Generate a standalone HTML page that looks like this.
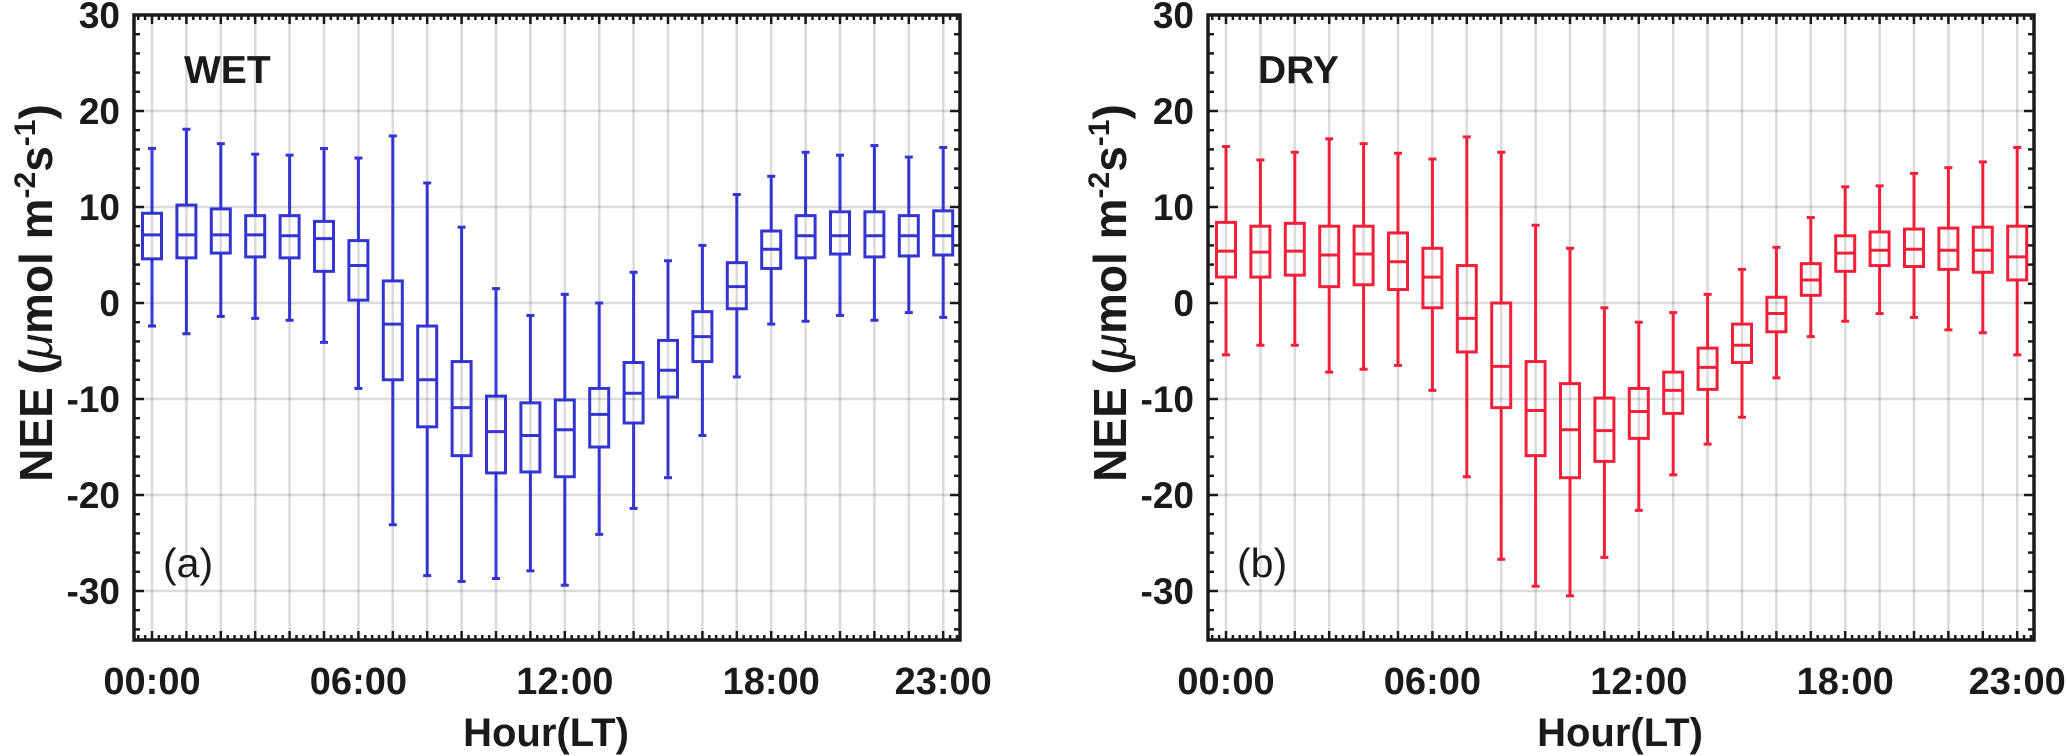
<!DOCTYPE html>
<html><head><meta charset="utf-8"><style>
html,body{margin:0;padding:0;background:#fff;}
svg{display:block;}
text{font-family:"Liberation Sans",Arial,sans-serif;fill:#1a1a1a;}
</style></head>
<body>
<svg id="chart" width="2067" height="756" viewBox="0 0 2067 756"></svg>
<script>
const hours = [0,1,2,3,4,5,6,7,8,9,10,11,12,13,14,15,16,17,18,19,20,21,22,23];
const xTickHours = [0,6,12,18,23];
const xTickLabels = ["00:00","06:00","12:00","18:00","23:00"];
const yTicks = [30,20,10,0,-10,-20,-30];
// WET season
const wetMax = [16.1,18.1,16.6,15.5,15.4,16.1,15.1,17.4,12.5,7.9,1.5,-1.3,0.9,0,3.2,4.4,6.0,11.3,13.2,15.7,15.4,16.4,15.2,16.2];
const wetQ3  = [9.35,10.2,9.8,9.1,9.1,8.5,6.5,2.3,-2.4,-6.1,-9.7,-10.4,-10.1,-8.9,-6.2,-3.9,-0.9,4.2,7.5,9.1,9.5,9.5,9.1,9.6];
const wetMed = [7.1,7.1,7.1,7.1,7.0,6.7,3.9,-2.2,-8.0,-10.9,-13.4,-13.8,-13.2,-11.6,-9.4,-7.0,-3.5,1.7,5.6,7.0,7.0,7.0,7.0,7.0];
const wetQ1  = [4.6,4.7,5.2,4.8,4.7,3.3,0.3,-8.0,-12.9,-15.9,-17.7,-17.6,-18.1,-15.0,-12.5,-9.8,-6.1,-0.6,3.6,4.7,5.1,4.8,4.9,5.0];
const wetMin = [-2.4,-3.2,-1.4,-1.6,-1.8,-4.1,-8.9,-23.1,-28.4,-29.0,-28.7,-27.9,-29.4,-24.1,-21.4,-18.2,-13.8,-7.7,-2.2,-1.9,-1.3,-1.8,-1.0,-1.5];
// DRY season
const dryMax = [16.3,14.9,15.7,17.1,16.6,15.6,15.0,17.3,15.7,8.1,5.7,-0.5,-2.0,-1.0,0.9,3.5,5.8,8.9,12.1,12.2,13.5,14.1,14.7,16.2];
const dryQ3  = [8.4,8.0,8.3,8.0,8.0,7.3,5.7,3.9,0,-6.1,-8.4,-9.9,-8.9,-7.2,-4.7,-2.2,0.6,4.1,7.0,7.4,7.7,7.8,7.9,8.0];
const dryMed = [5.4,5.3,5.4,5.0,5.1,4.3,2.7,-1.6,-6.6,-11.2,-13.2,-13.3,-11.3,-9.1,-6.7,-4.4,-1.1,2.4,5.2,5.5,5.6,5.5,5.5,4.8];
const dryQ1  = [2.7,2.7,2.9,1.7,1.9,1.4,-0.5,-5.1,-10.9,-15.9,-18.2,-16.5,-14.1,-11.5,-9.0,-6.2,-3.0,0.8,3.3,3.9,3.8,3.5,3.2,2.4];
const dryMin = [-5.4,-4.4,-4.4,-7.2,-6.9,-6.5,-9.1,-18.1,-26.7,-29.5,-30.5,-26.5,-21.6,-17.9,-14.7,-11.9,-7.8,-3.5,-1.9,-1.1,-1.5,-2.8,-3.1,-5.4];

const NS = "http://www.w3.org/2000/svg";
const svg = document.getElementById('chart');
function mk(tag, attrs, parent){
  const e = document.createElementNS(NS, tag);
  for (const k in attrs) e.setAttribute(k, attrs[k]);
  (parent||svg).appendChild(e);
  return e;
}
const PT = 15, PB = 640, PW = 826;
function yS(v){ return 303 - v*9.6; }

function panel(left, mx, q3, md, q1, mn, color, title, tag, key){
  const g = mk('g', {});
  
  
  const xS = h => left + 18 + h*34.4;
  const right = left + PW;
  const grid = mk('g', {}, g);
  
  
  hours.forEach(h => {
    const l = mk('line', {x1:xS(h), x2:xS(h), y1:PT, y2:PB, stroke:'rgba(0,0,0,0.14)', 'stroke-width':2.5}, grid);
    
    
  });
  yTicks.forEach(v => {
    const l = mk('line', {x1:left, x2:right, y1:yS(v), y2:yS(v), stroke:'rgba(0,0,0,0.14)', 'stroke-width':2.5}, grid);
    
    
  });
  hours.forEach((h,i) => {
    const bg = mk('g', {stroke:color, 'stroke-width':3, fill:'none'}, g);
    
    
    const x = xS(h), w = 19, c = 4;
    mk('line', {x1:x, x2:x, y1:yS(mx[i]), y2:yS(q3[i])}, bg);
    mk('line', {x1:x, x2:x, y1:yS(q1[i]), y2:yS(mn[i])}, bg);
    mk('line', {x1:x-c, x2:x+c, y1:yS(mx[i]), y2:yS(mx[i])}, bg);
    mk('line', {x1:x-c, x2:x+c, y1:yS(mn[i]), y2:yS(mn[i])}, bg);
    mk('rect', {x:x-w/2, y:yS(q3[i]), width:w, height:yS(q1[i])-yS(q3[i])}, bg);
    mk('line', {x1:x-w/2, x2:x+w/2, y1:yS(md[i]), y2:yS(md[i])}, bg);
  });
  const tk = mk('g', {stroke:'#1a1a1a', 'stroke-width':2.5}, g);
  
  
  for (let v = -34; v <= 30; v += 2){
    const len = (v % 10 === 0) ? 10 : 6;
    mk('line', {x1:left, x2:left+len, y1:yS(v), y2:yS(v)}, tk);
    mk('line', {x1:right, x2:right-len, y1:yS(v), y2:yS(v)}, tk);
  }
  for (let k = -2; k <= 117; k++){
    const h = k/5; const x = xS(h);
    if (x <= left || x >= right) continue;
    const len = (k % 5 === 0) ? 9 : 5;
    mk('line', {x1:x, x2:x, y1:PB, y2:PB-len}, tk);
    mk('line', {x1:x, x2:x, y1:PT, y2:PT+len}, tk);
  }
  const fr = mk('rect', {x:left, y:PT, width:PW, height:PB-PT, fill:'none', stroke:'#1a1a1a', 'stroke-width':3.5}, g);
  
  
  yTicks.forEach(v => {
    const t = mk('text', {x:left-14, y:yS(v)+13, 'text-anchor':'end', 'font-size':37, 'font-weight':'bold'}, g);
    t.textContent = v;
    
    
  });
  xTickHours.forEach((h,i) => {
    const t = mk('text', {x:xS(h), y:694, 'text-anchor':'middle', 'font-size':38, 'font-weight':'bold'}, g);
    t.textContent = xTickLabels[i];
    
    
  });
  const xt = mk('text', {x:left+PW/2-1, y:746, 'text-anchor':'middle', 'font-size':40, 'font-weight':'bold'}, g);
  xt.textContent = 'Hour(LT)';
  
  
  const yt = mk('text', {x:0, y:0, 'text-anchor':'middle', 'font-size':46, 'font-weight':'bold', transform:`translate(${left-82},293) rotate(-90)`}, g);
  yt.innerHTML = 'NEE (<tspan font-style="italic" font-weight="normal">μ</tspan>mol m<tspan dy="-17" font-size="30">-2</tspan><tspan dy="17">s</tspan><tspan dy="-17" font-size="30">-1</tspan><tspan dy="17">)</tspan>';
  
  
  const tt = mk('text', {x:left+50, y:83, 'font-size':39, 'font-weight':'bold', fill:'#000'}, g);
  tt.textContent = title;
  
  
  const lt = mk('text', {x:left+29, y:577, 'font-size':41, fill:'#000'}, g);
  lt.textContent = tag;
  
  
}
panel(134, wetMax, wetQ3, wetMed, wetQ1, wetMin, '#3434d0', 'WET', '(a)', 'wet');
panel(1208, dryMax, dryQ3, dryMed, dryQ1, dryMin, '#f0203a', 'DRY', '(b)', 'dry');
</script>
</body></html>
